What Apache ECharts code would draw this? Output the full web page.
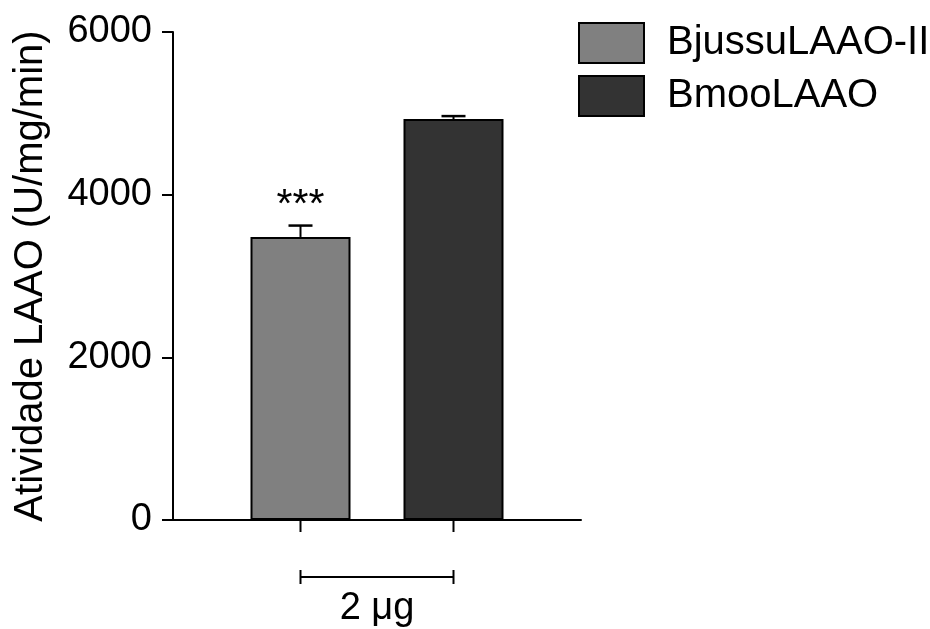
<!DOCTYPE html>
<html>
<head>
<meta charset="utf-8">
<script src="https://cdn.jsdelivr.net/npm/echarts@6/dist/echarts.min.js"></script>
<style>html,body{margin:0;padding:0;background:#fff}#c{width:930px;height:629px}</style>
</head>
<body>
<div id="c"></div>
<script>
const categories = ['2 μg'];
const seriesNames = ['BjussuLAAO-II', 'BmooLAAO'];
const meanValues = [3480, 4930];
const errorValues = [140, 36];
const significance = ['***', ''];
const yTicks = [0, 2000, 4000, 6000];
const colors = ['#808080', '#333333'];

const FONT = 'Liberation Sans, Arial, sans-serif';
const BAR_W = 100, BAR_GAP = 53;
const offsets = [-(BAR_W + BAR_GAP) / 2, (BAR_W + BAR_GAP) / 2];

const chart = echarts.init(document.getElementById('c'), null, {renderer: 'canvas'});

const barSeries = seriesNames.map((name, i) => ({
  name: name,
  type: 'bar',
  data: [meanValues[i]],
  barWidth: BAR_W,
  barGap: (BAR_GAP / BAR_W * 100) + '%',
  itemStyle: {color: colors[i], borderColor: '#000', borderWidth: 2},
  emphasis: {disabled: true},
  z: 2
}));

const errSeries = {
  type: 'custom',
  silent: true,
  clip: false,
  z: 3,
  data: meanValues.map((v, i) => [0, v, errorValues[i], i]),
  renderItem: function (params, api) {
    const i = api.value(3);
    const base = api.coord([0, api.value(1)]);
    const top = api.coord([0, api.value(1) + api.value(2)]);
    const zero = api.coord([0, 0]);
    const x = base[0] + offsets[i];
    const children = [
      {type: 'line', shape: {x1: x, y1: base[1], x2: x, y2: top[1]}, style: {stroke: '#000', lineWidth: 2}},
      {type: 'line', shape: {x1: x - 12, y1: top[1], x2: x + 12, y2: top[1]}, style: {stroke: '#000', lineWidth: 2.5}},
      {type: 'line', shape: {x1: x, y1: zero[1], x2: x, y2: zero[1] + 12}, style: {stroke: '#000', lineWidth: 2}}
    ];
    if (significance[i]) {
      children.push({type: 'text', style: {text: significance[i], x: x, y: top[1] + 1, align: 'center', verticalAlign: 'bottom', font: '41px ' + FONT, fill: '#000'}});
    }
    if (i === 0) {
      const x2 = base[0] + offsets[1];
      const yb = zero[1] + 57;
      children.push(
        {type: 'line', shape: {x1: x, y1: yb, x2: x2, y2: yb}, style: {stroke: '#000', lineWidth: 2}},
        {type: 'line', shape: {x1: x, y1: yb - 7, x2: x, y2: yb + 7}, style: {stroke: '#000', lineWidth: 2}},
        {type: 'line', shape: {x1: x2, y1: yb - 7, x2: x2, y2: yb + 7}, style: {stroke: '#000', lineWidth: 2}}
      );
    }
    return {type: 'group', children: children};
  }
};

chart.setOption({
  animation: false,
  backgroundColor: '#fff',
  grid: {left: 173, right: 349, top: 32, bottom: 109, containLabel: false},
  legend: {
    data: seriesNames,
    orient: 'vertical',
    left: 578, top: 22,
    padding: 0,
    itemWidth: 65, itemHeight: 40, itemGap: 11,
    icon: 'rect',
    textStyle: {fontSize: 40, fontFamily: FONT, color: '#000', padding: [0, 0, 0, 18]},
    itemStyle: {borderColor: '#000', borderWidth: 2},
    selectedMode: false
  },
  xAxis: {
    type: 'category',
    data: categories,
    axisLine: {lineStyle: {color: '#000', width: 2}},
    axisTick: {show: false},
    axisLabel: {color: '#000', fontSize: 38, fontFamily: FONT, margin: 70}
  },
  yAxis: {
    type: 'value',
    min: yTicks[0], max: yTicks[yTicks.length - 1], interval: 2000,
    name: 'Atividade LAAO (U/mg/min)',
    nameLocation: 'middle',
    nameGap: 122,
    nameTextStyle: {fontSize: 40, fontFamily: FONT, color: '#000'},
    axisLine: {show: true, lineStyle: {color: '#000', width: 2}},
    axisTick: {show: true, length: 11, lineStyle: {color: '#000', width: 2}},
    axisLabel: {color: '#000', fontSize: 38, fontFamily: FONT, margin: 21, formatter: v => String(v)},
    splitLine: {show: false}
  },
  series: barSeries.concat([errSeries])
});
</script>
</body>
</html>
